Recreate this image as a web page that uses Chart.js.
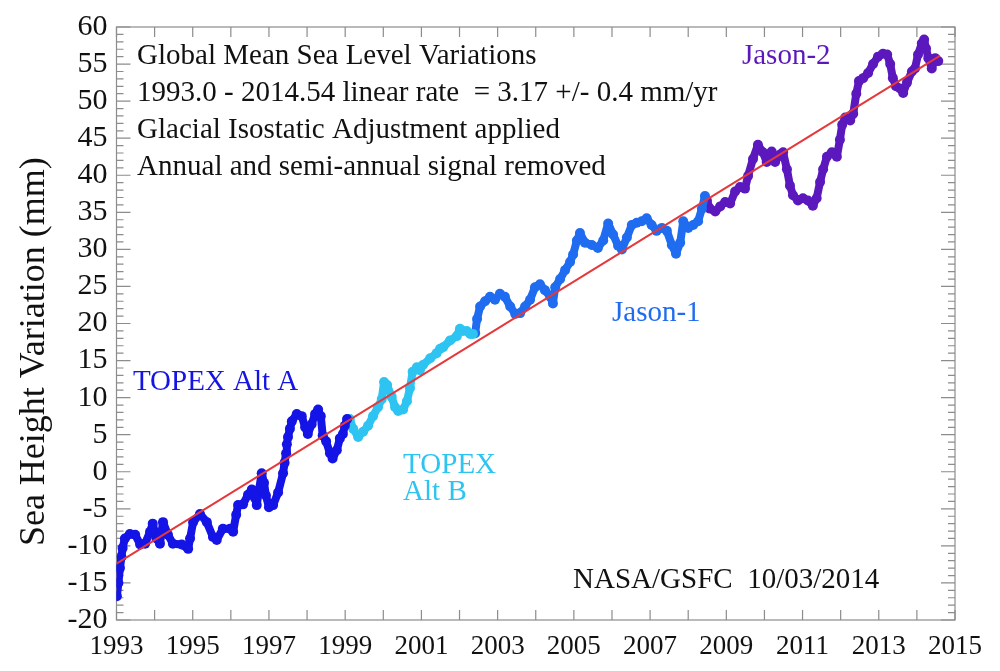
<!DOCTYPE html>
<html>
<head>
<meta charset="utf-8">
<title>Global Mean Sea Level Variations</title>
<script src="https://cdn.jsdelivr.net/npm/chart.js@4.4.1/dist/chart.umd.min.js"></script>
<style>
	body { margin: 0; background: #fff; }
</style>
</head>
<body>
<canvas id="chart-sea-level" width="1000" height="671"></canvas>
<script>
// sea height variation (mm), per mission
var topexAYears = [1993.01,1993.05,1993.09,1993.13,1993.16,1993.22,1993.35,1993.49,1993.62,1993.75,1993.88,1993.95,
	1994.05,1994.14,1994.22,1994.35,1994.48,1994.71,1994.88,1994.93,1995.01,1995.19,1995.37,1995.53,
	1995.63,1995.79,1995.98,1996.06,1996.14,1996.19,1996.32,1996.45,1996.55,1996.63,1996.68,1996.74,
	1996.81,1996.87,1996.92,1997.0,1997.11,1997.24,1997.37,1997.41,1997.45,1997.47,1997.5,1997.55,
	1997.6,1997.73,1997.86,1997.95,1998.02,1998.12,1998.21,1998.29,1998.36,1998.41,1998.5,1998.6,
	1998.67,1998.78,1998.86,1998.94,1998.99,1999.05];
var topexAValues = [-16.8,-15.0,-13.0,-11.5,-10.3,-9.0,-8.4,-8.5,-9.8,-9.7,-8.1,-7.0,
	-9.0,-9.7,-6.8,-8.5,-9.7,-9.8,-10.4,-9.0,-6.8,-5.7,-6.8,-8.8,
	-9.2,-7.7,-7.7,-8.1,-5.8,-4.5,-4.4,-3.1,-2.4,-3.5,-4.5,-2.4,
	-0.2,-1.5,-3.2,-4.8,-4.5,-2.8,-0.2,1.2,2.5,3.7,4.7,5.8,
	6.8,7.8,7.5,6.0,5.1,6.4,7.8,8.4,7.5,4.9,4.1,2.5,
	1.8,2.9,4.5,5.1,6.2,7.1];

var topexBYears = [1999.12,1999.21,1999.34,1999.47,1999.6,1999.73,1999.86,1999.96,2000.02,2000.1,2000.22,2000.31,
	2000.39,2000.52,2000.62,2000.7,2000.77,2000.88,2000.96,2001.04,2001.23,2001.4,2001.49,2001.57,
	2001.75,2001.93,2002.01,2002.09,2002.19,2002.28,2002.35];
var topexBValues = [7.1,5.8,4.7,5.4,6.2,7.5,8.7,9.8,12.1,11.7,10.1,8.7,
	8.2,8.4,9.5,11.3,13.5,14.1,13.7,14.4,15.3,16.0,16.6,16.8,
	17.7,18.3,19.3,19.0,19.0,18.6,18.6];

var jason1Years = [2002.41,2002.46,2002.54,2002.67,2002.8,2002.93,2003.06,2003.19,2003.33,2003.46,2003.59,2003.72,
	2003.85,2003.98,2004.11,2004.24,2004.38,2004.45,2004.51,2004.64,2004.77,2004.9,2004.98,2005.08,
	2005.16,2005.29,2005.47,2005.63,2005.77,2005.9,2006.03,2006.16,2006.26,2006.39,2006.52,2006.65,
	2006.78,2006.91,2007.04,2007.17,2007.31,2007.44,2007.57,2007.68,2007.79,2007.87,2008.0,2008.13,
	2008.26,2008.36,2008.44];
var jason1Values = [18.7,20.6,22.3,23.0,23.6,23.2,24.0,23.6,22.3,21.3,21.4,22.3,
	23.2,24.9,25.3,24.5,23.6,22.7,24.9,26.0,27.2,28.3,29.3,31.2,
	32.2,30.9,30.6,30.2,31.2,33.5,32.0,30.5,30.0,31.6,33.3,33.6,
	33.8,34.2,33.3,32.5,32.9,32.5,30.6,29.4,30.9,33.8,32.9,33.3,
	33.8,35.5,37.2];

var jason2Years = [2008.49,2008.57,2008.71,2008.84,2008.97,2009.1,2009.23,2009.36,2009.49,2009.57,
	2009.7,2009.83,2009.96,2010.06,2010.19,2010.28,2010.41,2010.49,2010.59,2010.67,
	2010.75,2010.88,2011.01,2011.14,2011.27,2011.37,2011.46,2011.54,2011.64,2011.77,
	2011.9,2011.98,2012.04,2012.12,2012.25,2012.33,2012.41,2012.48,2012.59,2012.72,
	2012.85,2012.98,2013.11,2013.22,2013.3,2013.37,2013.45,2013.56,2013.64,2013.74,
	2013.87,2013.95,2014.03,2014.13,2014.19,2014.24,2014.3,2014.39,2014.48,2014.56];
var jason2Values = [36.6,35.5,35.1,35.8,36.4,36.2,37.8,38.4,38.2,39.9,
	42.2,44.1,43.1,41.8,43.2,41.8,42.8,43.1,40.8,38.6,
	37.3,36.6,36.9,36.6,35.9,36.9,39.1,40.8,42.5,43.1,
	42.5,44.8,46.8,47.8,47.4,48.3,51.0,52.7,53.1,53.8,
	55.0,56.0,56.4,56.3,55.0,53.1,52.0,51.7,51.1,52.5,
	54.0,54.4,56.3,57.8,58.3,57.1,55.8,54.4,55.8,55.4];

// linear rate 3.17 mm/yr
var trendYears = [1993.0, 2014.6];
var trendValues = [-12.4, 56.1];

var xTickLabels = [1993,1995,1997,1999,2001,2003,2005,2007,2009,2011,2013,2015];
var yTickLabels = [-20,-15,-10,-5,0,5,10,15,20,25,30,35,40,45,50,55,60];

var infoLines = [
	"Global Mean Sea Level Variations",
	"1993.0 - 2014.54 linear rate  = 3.17 +/- 0.4 mm/yr",
	"Glacial Isostatic Adjustment applied",
	"Annual and semi-annual signal removed"
];

var FONT = '"Liberation Serif", "Times New Roman", serif';
var COL_A = "#1414e6";
var COL_B = "#2ec4f2";
var COL_J1 = "#1f6cf0";
var COL_J2 = "#5b18bd";

function toPoints(xs, ys)
{
	return xs.map(function(x, i) { return { x: x, y: ys[i] }; });
}

function missionSet(label, xs, ys, color)
{
	return {
		label: label,
		data: toPoints(xs, ys),
		borderColor: color,
		backgroundColor: color,
		borderWidth: 8,
		borderJoinStyle: "round",
		borderCapStyle: "round",
		pointRadius: 5,
		pointBorderWidth: 0,
		pointBackgroundColor: color,
		tension: 0
	};
}

// box with inward ticks on all four sides
var framePlugin = {
	id: "frame",
	beforeDatasetsDraw: function(chart)
	{
		var ctx = chart.ctx, a = chart.chartArea, x = chart.scales.x, y = chart.scales.y;
		ctx.save();
		ctx.strokeStyle = "#8c8c8c";
		ctx.lineWidth = 1.2;
		ctx.strokeRect(a.left, a.top, a.right - a.left, a.bottom - a.top);
		ctx.beginPath();
		for (var yr = x.min; yr <= x.max; yr++)
		{
			var px = x.getPixelForValue(yr);
			ctx.moveTo(px, a.bottom); ctx.lineTo(px, a.bottom - 10);
			ctx.moveTo(px, a.top); ctx.lineTo(px, a.top + 10);
		}
		for (var v = y.min; v <= y.max; v++)
		{
			var py = y.getPixelForValue(v);
			var len = (v % 5 === 0) ? 14 : 7;
			ctx.moveTo(a.left, py); ctx.lineTo(a.left + len, py);
			ctx.moveTo(a.right, py); ctx.lineTo(a.right - len, py);
		}
		ctx.stroke();
		ctx.restore();
	}
};

var notesPlugin = {
	id: "notes",
	afterDraw: function(chart)
	{
		var ctx = chart.ctx, x = chart.scales.x, y = chart.scales.y;
		ctx.save();
		ctx.textBaseline = "middle";
		ctx.textAlign = "left";
		ctx.font = "29px " + FONT;

		ctx.fillStyle = "#111";
		infoLines.forEach(function(t, i)
		{
			ctx.fillText(t, x.getPixelForValue(1993.54), y.getPixelForValue(56.0 - i * 4.96));
		});
		ctx.fillText("NASA/GSFC  10/03/2014", x.getPixelForValue(2004.98), y.getPixelForValue(-14.7));

		ctx.fillStyle = COL_A;
		ctx.fillText("TOPEX Alt A", x.getPixelForValue(1993.43), y.getPixelForValue(12.1));
		ctx.fillStyle = COL_B;
		ctx.fillText("TOPEX", x.getPixelForValue(2000.52), y.getPixelForValue(0.9));
		ctx.fillText("Alt B", x.getPixelForValue(2000.52), y.getPixelForValue(-2.8));
		ctx.fillStyle = COL_J1;
		ctx.fillText("Jason-1", x.getPixelForValue(2006.0), y.getPixelForValue(21.3));
		ctx.fillStyle = COL_J2;
		ctx.fillText("Jason-2", x.getPixelForValue(2009.41), y.getPixelForValue(56.0));

		// y axis title
		ctx.fillStyle = "#111";
		ctx.font = "36px " + FONT;
		ctx.textAlign = "center";
		ctx.translate(35, y.getPixelForValue(16.2));
		ctx.rotate(-Math.PI / 2);
		ctx.fillText("Sea Height Variation (mm)", 0, 0);
		ctx.restore();
	}
};

new Chart(document.getElementById("chart-sea-level"), {
	type: "line",
	data: {
		datasets: [
			{
				label: "trend",
				data: toPoints(trendYears, trendValues),
				borderColor: "#e5383b",
				borderWidth: 2,
				pointRadius: 0
			},
			missionSet("TOPEX Alt A", topexAYears, topexAValues, COL_A),
			missionSet("TOPEX Alt B", topexBYears, topexBValues, COL_B),
			missionSet("Jason-1", jason1Years, jason1Values, COL_J1),
			missionSet("Jason-2", jason2Years, jason2Values, COL_J2)
		]
	},
	options: {
		responsive: false,
		animation: false,
		devicePixelRatio: 1,
		layout: { padding: { top: 15.5, right: 45, left: 0, bottom: 0 } },
		plugins: {
			legend: { display: false },
			tooltip: { enabled: false }
		},
		scales: {
			x: {
				type: "linear",
				min: xTickLabels[0],
				max: xTickLabels[xTickLabels.length - 1],
				grid: { display: false, drawTicks: false },
				border: { display: false },
				afterFit: function(scale) { scale.height = 51; },
				afterBuildTicks: function(scale)
				{
					scale.ticks = xTickLabels.map(function(v) { return { value: v }; });
				},
				ticks: {
					autoSkip: false,
					maxRotation: 0,
					padding: 11,
					color: "#111",
					font: { family: FONT, size: 27 },
					callback: function(v) { return String(v); }
				}
			},
			y: {
				min: yTickLabels[0],
				max: yTickLabels[yTickLabels.length - 1],
				grid: { display: false, drawTicks: false },
				border: { display: false },
				afterFit: function(scale) { scale.width = 116.5; },
				afterBuildTicks: function(scale)
				{
					scale.ticks = yTickLabels.map(function(v) { return { value: v }; });
				},
				ticks: {
					autoSkip: false,
					padding: 9,
					color: "#111",
					font: { family: FONT, size: 30 },
					callback: function(v) { return String(v); }
				}
			}
		}
	},
	plugins: [framePlugin, notesPlugin]
});
</script>
</body>
</html>
